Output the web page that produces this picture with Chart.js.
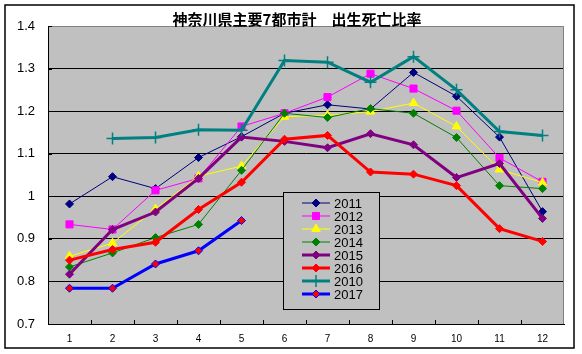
<!DOCTYPE html>
<html><head><meta charset="utf-8">
<script src="https://cdn.jsdelivr.net/npm/chart.js@4/dist/chart.umd.min.js"></script>
<style>html,body{margin:0;padding:0;background:#fff}#wrap{width:582px;height:354px;position:relative}</style>
</head><body><div id="wrap"><canvas id="c" width="582" height="354"></canvas></div>
<script>
const months = ['1','2','3','4','5','6','7','8','9','10','11','12'];
const y2011 = [0.982,1.046,1.018,1.091,1.140,1.195,1.215,1.205,1.291,1.235,1.139,0.964];
const y2012 = [0.934,0.922,1.014,1.042,1.164,1.195,1.233,1.288,1.253,1.201,1.090,1.034];
const y2013 = [0.859,0.890,0.970,1.047,1.071,1.187,1.190,1.199,1.219,1.164,1.063,1.032];
const y2014 = [0.834,0.867,0.903,0.934,1.061,1.195,1.185,1.206,1.195,1.138,1.025,1.018];
const y2015 = [0.817,0.922,0.963,1.042,1.139,1.129,1.114,1.147,1.121,1.044,1.077,0.948];
const y2016 = [0.850,0.875,0.892,0.969,1.033,1.134,1.143,1.057,1.052,1.025,0.924,0.894];
const y2010 = [null,1.136,1.138,1.156,1.155,1.319,1.315,1.268,1.328,1.250,1.152,1.143];
const y2017 = [0.784,0.784,0.841,0.872,0.943,null,null,null,null,null,null,null];
const seriesLabels = ['2011','2012','2013','2014','2015','2016','2010','2017'];
const yTicks = [0.7,0.8,0.9,1.0,1.1,1.2,1.3,1.4];
const titleText = '神奈川県主要7都市計　出生死亡比率';

const styles = [
  {c:'#000080', w:1, p:'rectRot', r:4, f:'#000080', b:'#000080'},
  {c:'#FF00FF', w:1, p:'rect', r:5, f:'#FF00FF', b:'#FF00FF'},
  {c:'#FFFF00', w:1, p:'triangle', r:5, f:'#FFFF00', b:'#FFFF00'},
  {c:'#008000', w:1, p:'rectRot', r:4, f:'#008000', b:'#008000'},
  {c:'#800080', w:3, p:'rectRot', r:4, f:'#800080', b:'#800080'},
  {c:'#FF0000', w:3, p:'rectRot', r:4, f:'#FF0000', b:'#FF0000'},
  {c:'#008080', w:3, p:'cross', r:6, f:'#008080', b:'#008080'},
  {c:'#0000FF', w:3, p:'rectRot', r:4, f:'#FF0000', b:'#0000FF'}
];
const seriesData = [y2011,y2012,y2013,y2014,y2015,y2016,y2010,y2017];

const datasets = seriesData.map((d,i)=>({
  label: seriesLabels[i], data: d,
  borderColor: styles[i].c, borderWidth: styles[i].w,
  pointStyle: styles[i].p, pointRadius: styles[i].r, pointHoverRadius: styles[i].r,
  pointBackgroundColor: styles[i].f, pointBorderColor: styles[i].b,
  pointBorderWidth: styles[i].p==='cross'?1.5:1,
  tension: 0, fill: false, order: 10 - i, spanGaps: false
}));

function drawMarker(ctx, s, x, y){
  ctx.save();
  ctx.fillStyle = s.f; ctx.strokeStyle = s.b; ctx.lineWidth = s.p==='cross'?1.5:1;
  ctx.beginPath();
  const r = s.r;
  if (s.p==='rectRot'){ ctx.moveTo(x, y-r); ctx.lineTo(x+r,y); ctx.lineTo(x,y+r); ctx.lineTo(x-r,y); ctx.closePath(); ctx.fill(); ctx.stroke(); }
  else if (s.p==='rect'){ const h=r*Math.SQRT1_2; ctx.rect(x-h,y-h,2*h,2*h); ctx.fill(); ctx.stroke(); }
  else if (s.p==='triangle'){ const h=r*Math.sqrt(3)/2; ctx.moveTo(x,y-r); ctx.lineTo(x+h,y+r/2); ctx.lineTo(x-h,y+r/2); ctx.closePath(); ctx.fill(); ctx.stroke(); }
  else if (s.p==='cross'){ ctx.moveTo(x,y-r); ctx.lineTo(x,y+r); ctx.moveTo(x-r,y); ctx.lineTo(x+r,y); ctx.stroke(); }
  ctx.restore();
}

const decor = {
  id:'decor',
  beforeDraw(chart){
    const ctx = chart.ctx, a = chart.chartArea;
    ctx.save();
    ctx.fillStyle = '#fff'; ctx.fillRect(0,0,chart.width,chart.height);
    ctx.strokeStyle = '#000'; ctx.lineWidth = 1.5;
    ctx.strokeRect(5,5,569,343);
    ctx.fillStyle = '#C0C0C0'; ctx.fillRect(a.left,a.top,a.right-a.left,a.bottom-a.top);
    ctx.restore();
  },
  afterDraw(chart){
    const ctx = chart.ctx, a = chart.chartArea;
    const xs = chart.scales.x, ys = chart.scales.y;
    ctx.save();
    // grey top/right border
    ctx.strokeStyle = '#808080'; ctx.lineWidth = 1;
    ctx.beginPath(); ctx.moveTo(a.left, a.top+0.5); ctx.lineTo(a.right-0.5, a.top+0.5); ctx.lineTo(a.right-0.5, a.bottom); ctx.stroke();
    // inner ticks
    ctx.strokeStyle = '#000'; ctx.lineWidth = 1;
    ctx.beginPath();
    const step = xs.getPixelForValue(1) - xs.getPixelForValue(0);
    for (let i=1;i<months.length;i++){
      const px = Math.round(xs.getPixelForValue(i) - step/2)+0.5;
      ctx.moveTo(px, a.bottom); ctx.lineTo(px, a.bottom-4);
    }
    yTicks.forEach(v=>{ const py = Math.round(ys.getPixelForValue(v))+0.5; ctx.moveTo(a.left, py); ctx.lineTo(a.left+4, py); });
    ctx.stroke();
    // legend
    const L = {x:283, y:192, w:96, h:117};
    ctx.fillStyle = '#C0C0C0'; ctx.fillRect(L.x, L.y, L.w, L.h);
    ctx.strokeStyle = '#000'; ctx.lineWidth = 1; ctx.strokeRect(L.x+0.5, L.y+0.5, L.w, L.h);
    ctx.font = '13px "Liberation Sans", Arial, sans-serif';
    ctx.textBaseline = 'middle'; ctx.textAlign = 'left'; 
    seriesLabels.forEach((lab,i)=>{
      const yy = 203 + i*13, s = styles[i];
      ctx.strokeStyle = s.c; ctx.lineWidth = s.w;
      ctx.beginPath(); ctx.moveTo(302, yy); ctx.lineTo(330, yy); ctx.stroke();
      drawMarker(ctx, s, 316, yy);
      ctx.fillStyle = '#000'; ctx.fillText(lab, 334, yy+1);
    });
    // title
    ctx.font = 'bold 15px "Noto Sans CJK JP", sans-serif';
    ctx.textAlign = 'center'; ctx.fillStyle = '#000';
    ctx.fillText(titleText, 297, 19);
    ctx.restore();
  }
};

new Chart(document.getElementById('c'), {
  type:'line',
  data:{ labels: months, datasets },
  options:{
    responsive:false, animation:false, devicePixelRatio:1,
    layout:{ padding:{ left:0, top:26, right:18, bottom:6 } },
    plugins:{ legend:{display:false}, title:{display:false}, tooltip:{enabled:false} },
    scales:{
      x:{ type:'category', offset:true,
        grid:{ display:true, drawOnChartArea:false, drawTicks:false },
        border:{ display:true, color:'#000', width:1 },
        ticks:{ color:'#000', font:{ family:'"Liberation Sans", Arial, sans-serif', size:10 }, padding:9, maxRotation:0, autoSkip:false },
        afterFit(s){ s.height = 24; }
      },
      y:{ min:0.7, max:1.4,
        afterBuildTicks(s){ s.ticks = yTicks.map(v=>({value:v})); },
        grid:{ drawTicks:false, color:(c)=> (c.tick && c.tick.value>0.75 && c.tick.value<1.35) ? '#000' : 'rgba(0,0,0,0)' , lineWidth:1},
        border:{ display:true, color:'#000', width:1 },
        ticks:{ color:'#000', font:{ family:'"Liberation Sans", Arial, sans-serif', size:13 }, padding:13,
          callback:(v)=> String(Math.round(v*10)/10) },
        afterFit(s){ s.width = 48; }
      }
    }
  },
  plugins:[decor]
});
</script></body></html>
